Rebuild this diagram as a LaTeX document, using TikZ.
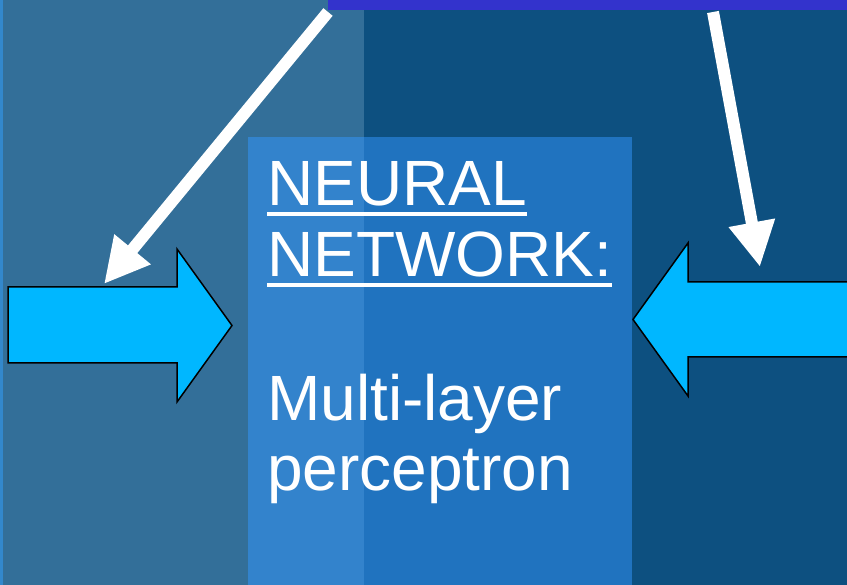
\documentclass[tikz,border=0pt]{standalone}
\usepackage{fontspec}
\setmainfont{Liberation Sans}
\usetikzlibrary{arrows.meta}
\definecolor{bgleft}{RGB}{51,111,153}
\definecolor{bgright}{RGB}{13,80,128}
\definecolor{bgedge}{RGB}{51,136,204}
\definecolor{topbar}{RGB}{51,51,204}
\definecolor{panel}{RGB}{51,151,255}
\definecolor{blockblue}{RGB}{0,183,255}
\begin{document}
\begin{tikzpicture}[x=1pt, y=-1pt, line join=round,
		>={Triangle[length=45pt,width=44pt]},
		pointer/.style={->, white, line width=12pt},
		blockarrow/.style={fill=blockblue, draw=black, line width=1.5pt, line join=miter},
		caption/.style={text=white, inner sep=0, anchor=base west, font=\fontsize{64pt}{71pt}\selectfont},
		underline/.style={white, line width=4pt}]
	\useasboundingbox (0,0) rectangle (847,585);
	% background halves and top bar
	\fill[bgleft] (0,0) rectangle (364,585);
	\fill[bgright] (364,0) rectangle (847,585);
	\fill[bgedge] (0,0) rectangle (3,585);
	\fill[topbar] (328,0) rectangle (847,10);
	% text panel
	\fill[panel, fill opacity=0.5] (248,137) rectangle (632,585);
	% block arrows
	\filldraw[blockarrow] (8,287) -- (177,287) -- (177,249) -- (232,325.5) -- (177,402) -- (177,363) -- (8,363) -- cycle;
	\filldraw[blockarrow] (849,282) -- (688,282) -- (688,243) -- (633,319.5) -- (688,396) -- (688,357) -- (849,357);
	% pointers from the top bar
	\coordinate (fromleft) at (328,12);
	\coordinate (toleft) at (104,284);
	\coordinate (fromright) at (713,12);
	\coordinate (toright) at (760,267);
	\draw[pointer] (fromleft) -- (toleft);
	\draw[pointer] (fromright) -- (toright);
	% text
	\node[caption] (neural) at (267,206) {NEURAL};
	\node[caption] (network) at (267,277) {NETWORK:};
	\node[caption] (multi) at (267,421) {Multi-layer};
	\node[caption] (perc) at (267,490) {perceptron};
	\draw[underline] ([yshift=-8.5pt]neural.base west) -- ([yshift=-8.5pt]neural.base east);
	\draw[underline] ([yshift=-8.5pt]network.base west) -- ([yshift=-8.5pt]network.base east);
\end{tikzpicture}
\end{document}
